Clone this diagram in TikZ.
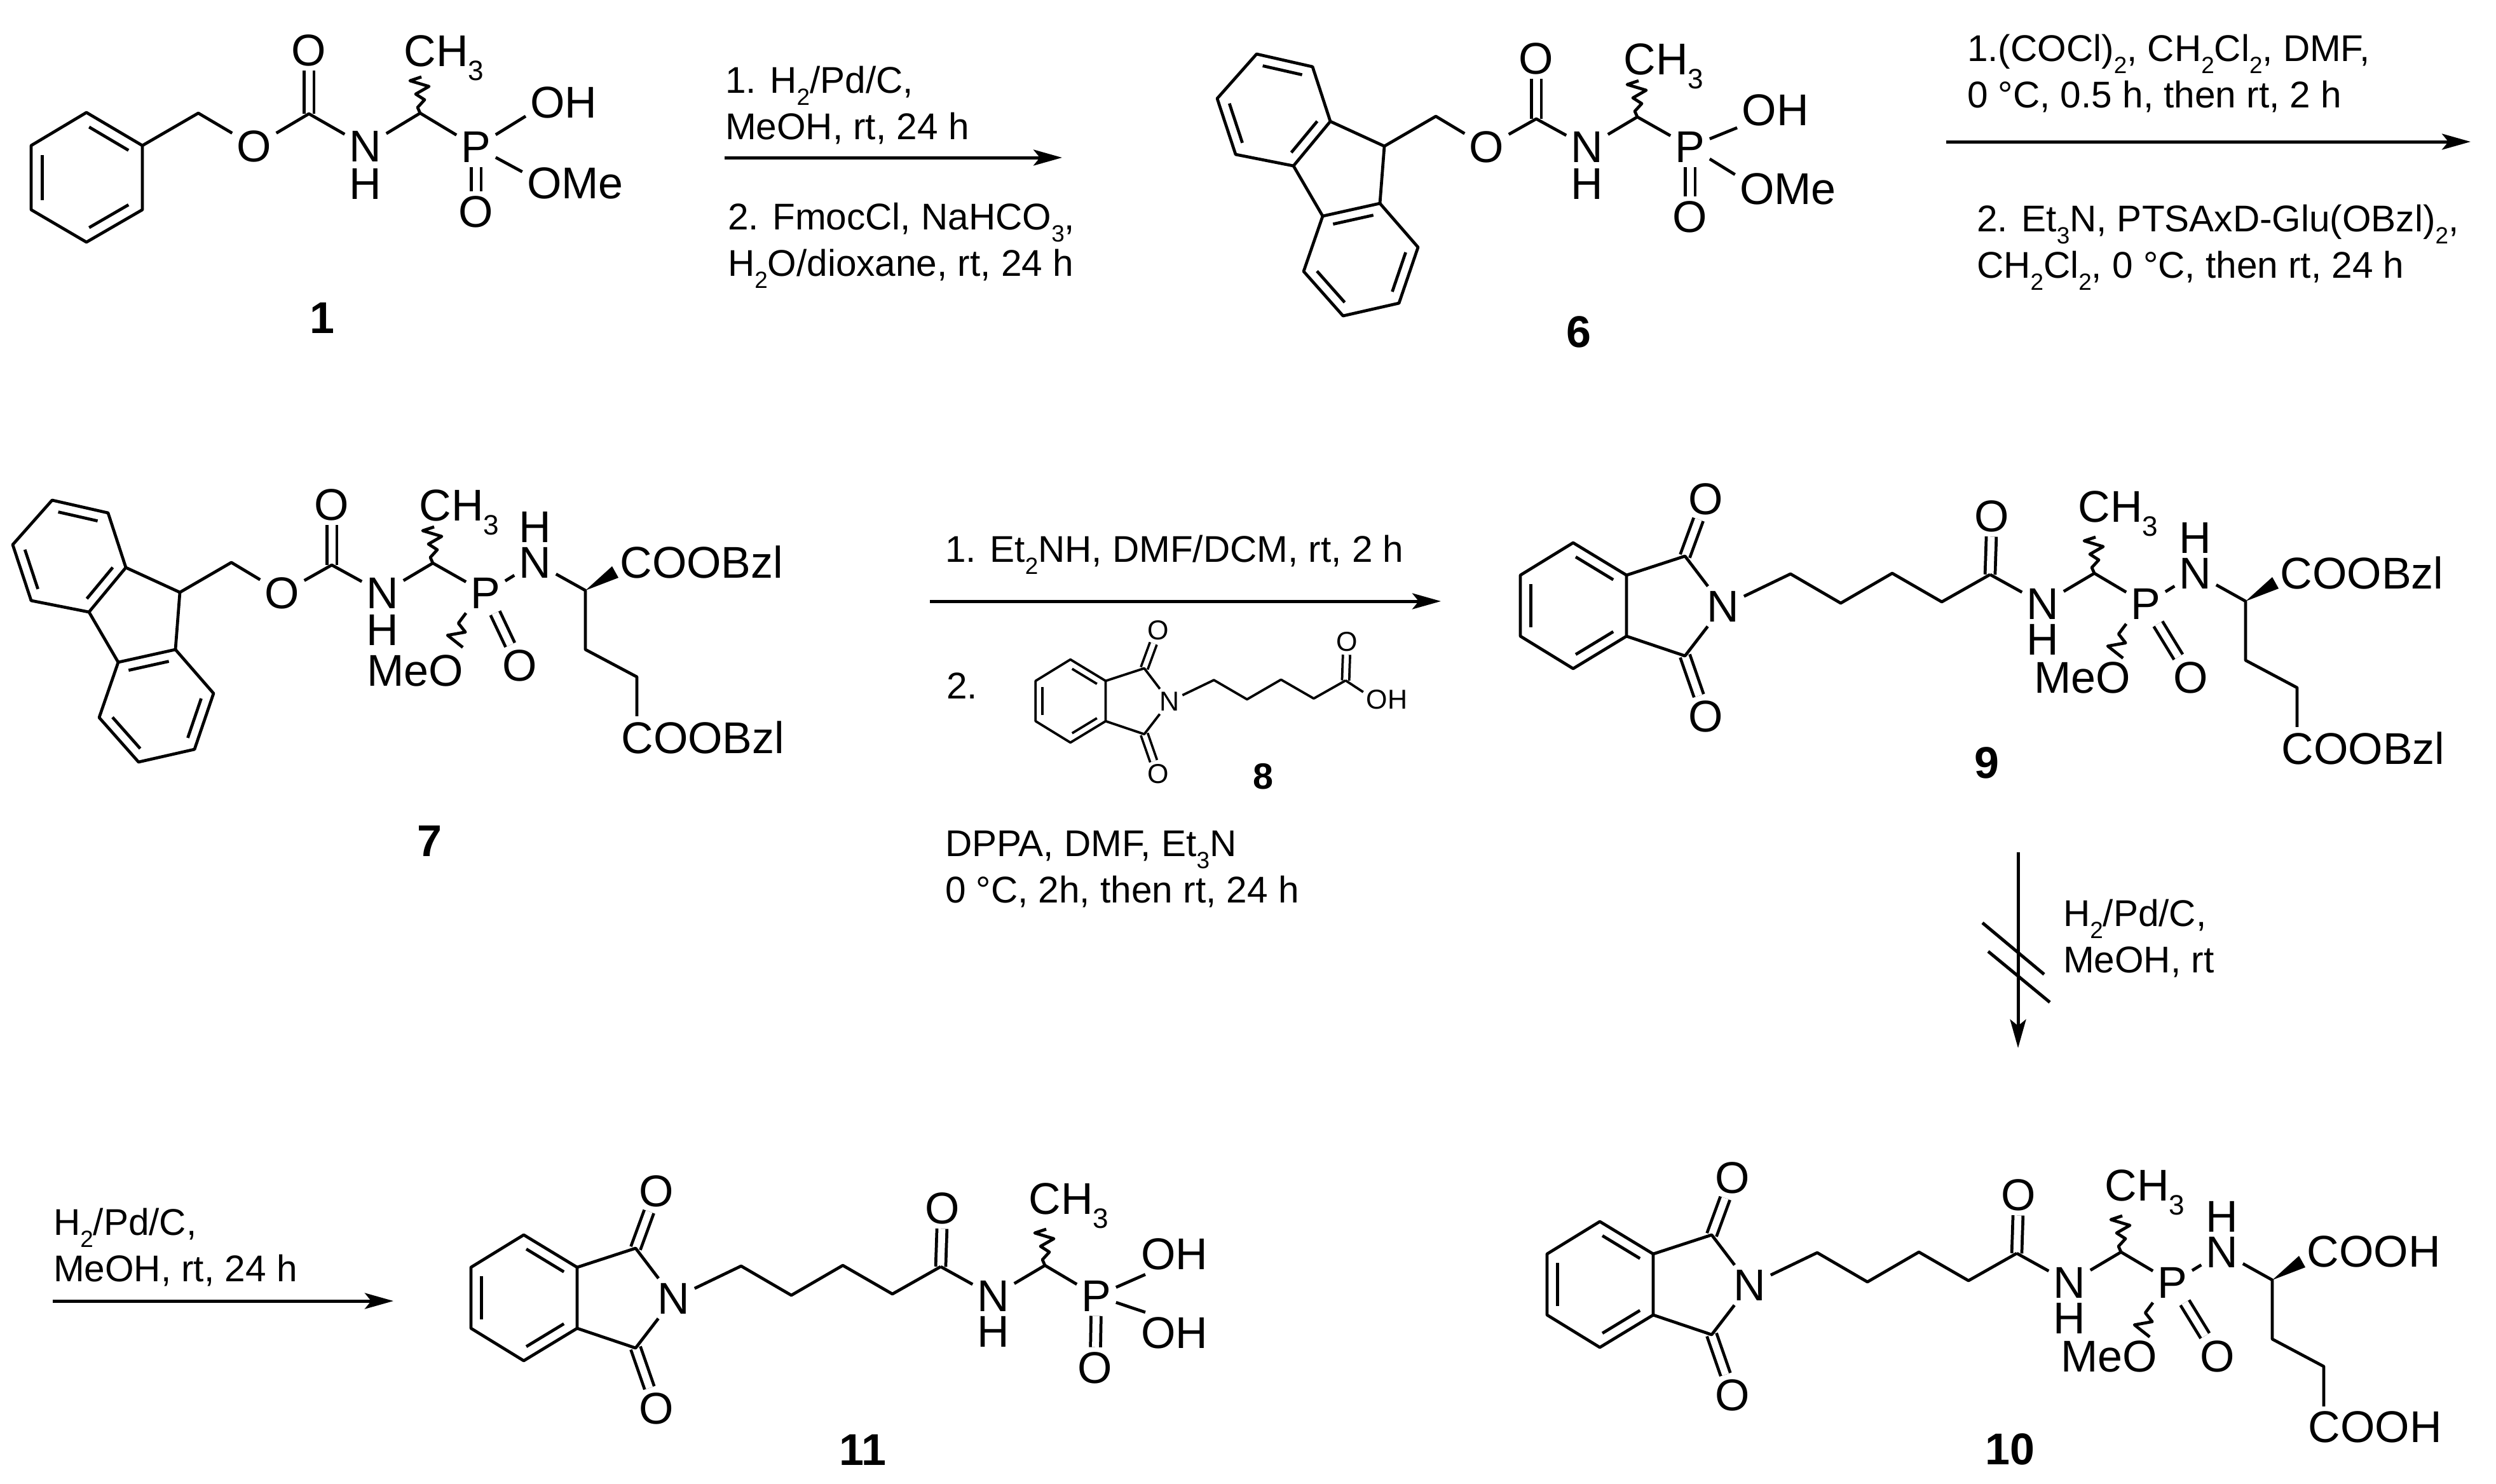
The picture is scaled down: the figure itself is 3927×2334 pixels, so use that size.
\documentclass[tikz,border=0pt]{standalone}
\usepackage{fontspec}
\setmainfont{Liberation Sans}
\usetikzlibrary{calc,arrows.meta}

\tikzset{
    bond/.style={line width=.95pt, line join=round},
    dbl/.style={bond, double, double distance=2.2pt},
    atom/.style={font=\fontsize{14}{14}\selectfont, inner sep=1.5pt, outer sep=0pt},
    num/.style={font=\fontsize{14}{14}\selectfont\bfseries, inner sep=0pt},
    reagent/.style={font=\fontsize{11.7}{14.6}\selectfont, align=left, anchor=west, inner sep=0pt},
    rxnarrow/.style={line width=1pt, -{Stealth[length=9pt,width=5pt,inset=2pt]}},
}

\newcommand{\low}[1]{\raisebox{-.32em}{\scalebox{.63}{#1}}}
% inner line of an aromatic double bond: ends, ring centre
\newcommand{\inbond}[3]{\draw[bond] ($(#1)!.06!(#2)!.2!(#3)$) -- ($(#2)!.06!(#1)!.2!(#3)$);}
\newcommand{\wavyup}[1]{\draw[bond] (#1) -- ++(-4,-9) -- ++(11,-12) -- ++(-14,-9) -- ++(21,-12) -- ++(-30,-9) -- ++(18,-6);}

% fluorenylmethyl carbamate, drawn where compound 6 stands
\newcommand{\fmocpart}{
    \path (1977,85) coordinate (a1) (2065,105) coordinate (a2) (2093,191) coordinate (a3)
          (2035,261) coordinate (a4) (1944,243) coordinate (a5) (1915,155) coordinate (a6)
          (2004,173) coordinate (ac);
    \path (2081,340) coordinate (b1) (2171,320) coordinate (b2) (2231,389) coordinate (b3)
          (2201,477) coordinate (b4) (2113,497) coordinate (b5) (2051,427) coordinate (b6)
          (2141,408) coordinate (bc);
    \path (2178,230) coordinate (c9) (2259,183) coordinate (cM) (2417,187) coordinate (cC)
          (2576,184) coordinate (cH);
    \node[atom] (nOe) at (2339,231) {O};
    \node[atom] (nOc) at (2417,92) {O};
    \node[atom] (nNH) at (2497,231) {N};
    \node[atom] (nHN) at (2497,289) {H};
    \node[atom] (nP)  at (2659,231) {P};
    \node[atom,anchor=base west] (nMe) at (2547,117) {CH\low{3}};
    \draw[dbl] (cC) -- (nOc);
    \draw[bond] (a1) -- (a2) -- (a3) -- (a4) -- (a5) -- (a6) -- cycle;
    \draw[bond] (b1) -- (b2) -- (b3) -- (b4) -- (b5) -- (b6) -- cycle;
    \draw[bond] (a4) -- (b1) (a3) -- (c9) -- (b2);
    \inbond{a1}{a2}{ac} \inbond{a3}{a4}{ac} \inbond{a5}{a6}{ac}
    \inbond{b1}{b2}{bc} \inbond{b3}{b4}{bc} \inbond{b5}{b6}{bc}
    \draw[bond] (c9) -- (cM) -- (nOe) -- (cC) -- (nNH) -- (cH) -- (nP);
    \wavyup{cH}
}

% phthalimide, chain and amide C=O, drawn where compound 9 stands
\newcommand{\phthalpart}{
    \path (2475,854) coordinate (r1) (2559,905) coordinate (r2) (2559,1001) coordinate (r3)
          (2475,1052) coordinate (r4) (2392,1001) coordinate (r5) (2392,905) coordinate (r6)
          (2475,953) coordinate (rc);
    \path (2651,875) coordinate (c1) (2651,1032) coordinate (c2);
    \path (2817,903) coordinate (v1) (2896,949) coordinate (v2) (2977,902) coordinate (v3)
          (3055,947) coordinate (v4) (3131,904) coordinate (cC);
    \node[atom] (nN)  at (2711,954) {N};
    \node[atom] (nO1) at (2684,785) {O};
    \node[atom] (nO2) at (2684,1127) {O};
    \node[atom] (nOc) at (3134,812) {O};
    \draw[dbl] (c1) -- (nO1);
    \draw[dbl] (c2) -- (nO2);
    \draw[dbl] (cC) -- (nOc);
    \draw[bond] (r1) -- (r2) -- (r3) -- (r4) -- (r5) -- (r6) -- cycle;
    \inbond{r1}{r2}{rc} \inbond{r3}{r4}{rc} \inbond{r5}{r6}{rc}
    \draw[bond] (r2) -- (c1) -- (nN) -- (c2) -- (r3);
    \draw[bond] (nN) -- (v1) -- (v2) -- (v3) -- (v4) -- (cC);
}

% NH, CH(CH3) and P that follow the phthaloyl chain
\newcommand{\amidepart}{
    \path (3295,902) coordinate (cH);
    \node[atom] (nNH) at (3214,950) {N};
    \node[atom] (nHN) at (3214,1006) {H};
    \node[atom] (nP)  at (3376,950) {P};
    \node[atom,anchor=base west] (nMe) at (3262,821) {CH\low{3}};
    \draw[bond] (cC) -- (nNH) -- (cH) -- (nP);
    \wavyup{cH}
}

% P(OMe)(=O)-NH-Glu, args: place of MeO, place of O, the two ester labels
\newcommand{\glupart}[4]{
    \path (3533,946) coordinate (cS) (3533,1039) coordinate (g1) (3614,1082) coordinate (g2);
    \node[atom] (nNa) at (3454,902) {N};
    \node[atom] (nHa) at (3454,846) {H};
    \node[atom] (nMeO) at #1 {MeO};
    \node[atom] (nOp) at #2 {O};
    \node[atom,anchor=west] (nE1) at (3580,901) {#3};
    \node[atom,anchor=west] (nE2) at (3582,1177) {#4};
    \draw[dbl] (nP) -- (nOp);
    \draw[bond] (nP.south west) -- ++(-12,16) -- ++(11,14) -- ++(-28,5) -- ++(24,19);
    \draw[bond] (nP) -- (nNa) -- (cS) -- (g1) -- (g2) -- (g2 |- nE2.north);
    \fill (cS) -- ++(42,-38) -- ++(10,18) -- cycle;
}

\begin{document}
\begin{tikzpicture}[x=.2pt,y=-.2pt]
    \useasboundingbox (0,0) rectangle (3927,2334);

    % compound 1
    \begin{scope}[name prefix=m1-]
        \path (136,177) coordinate (a1) (224,229) coordinate (a2) (224,330) coordinate (a3)
              (136,381) coordinate (a4) (49,330) coordinate (a5) (49,229) coordinate (a6)
              (136,279) coordinate (ac);
        \path (312,178) coordinate (cM) (486,179) coordinate (cC) (661,178) coordinate (cH);
        \node[atom] (nOe) at (400,230) {O};
        \node[atom] (nOc) at (486,79) {O};
        \node[atom] (nNH) at (575,230) {N};
        \node[atom] (nHN) at (575,289) {H};
        \node[atom] (nP)  at (749,231) {P};
        \node[atom] (nOp) at (749,333) {O};
        \node[atom] (nOH) at (887,161) {OH};
        \node[atom] (nOM) at (905,288) {OMe};
        \node[atom,anchor=base west] (nMe) at (628,104) {CH\low{3}};
        \draw[dbl] (cC) -- (nOc);
        \draw[dbl] (nP) -- (nOp);
        \draw[bond] (a1) -- (a2) -- (a3) -- (a4) -- (a5) -- (a6) -- cycle;
        \inbond{a1}{a2}{ac} \inbond{a3}{a4}{ac} \inbond{a5}{a6}{ac}
        \draw[bond] (a2) -- (cM) -- (nOe) -- (cC) -- (nNH) -- (cH) -- (nP);
        \draw[bond] (nP) -- (nOH.200) (nP) -- (nOM.168);
        \wavyup{cH}
        \node[num] (lab1) at (507,500) {1};
    \end{scope}

    % compound 6
    \begin{scope}[name prefix=m6-]
        \fmocpart
        \node[atom] (nOp) at (2659,341) {O};
        \node[atom] (nOH) at (2793,173) {OH};
        \node[atom] (nOM) at (2813,297) {OMe};
        \draw[dbl] (nP) -- (nOp);
        \draw[bond] (nP) -- (nOH.205) (nP) -- (nOM.165);
        \node[num] (lab6) at (2484,522) {6};
    \end{scope}

    % compound 7
    \begin{scope}[name prefix=m7-]
        \begin{scope}[shift={(-1895,702)}]
            \fmocpart
        \end{scope}
        \begin{scope}[shift={(-2612,-17)}]
            \glupart{(3265,1072)}{(3430,1064)}{COOBzl}{COOBzl}
        \end{scope}
        \node[num] (lab7) at (676,1323) {7};
    \end{scope}

    % compound 8, smaller
    \begin{scope}[name prefix=m8-]
        \begin{scope}[shift={(50.5,474)},scale=.66,
                      atom/.append style={font=\fontsize{8.6}{8.6}\selectfont, inner sep=1pt},
                      bond/.append style={line width=.75pt},
                      dbl/.append style={double distance=1.5pt}]
            \phthalpart
        \end{scope}
        \node[atom,font=\fontsize{8.6}{8.6}\selectfont,inner sep=1pt] (nOH) at (2182,1101) {OH};
        \draw[bond,line width=.75pt] (cC) -- (nOH.162);
        \node[num,font=\fontsize{11.5}{11.5}\selectfont\bfseries] (lab8) at (1987,1222) {8};
    \end{scope}

    % compound 9
    \begin{scope}[name prefix=m9-]
        \phthalpart
        \amidepart
        \glupart{(3276,1066)}{(3447,1066)}{COOBzl}{COOBzl}
        \node[num] (lab9) at (3126,1200) {9};
    \end{scope}

    % compound 10
    \begin{scope}[name prefix=m10-,shift={(42,1068)}]
        \phthalpart
        \amidepart
        \glupart{(3276,1066)}{(3447,1066)}{COOH}{COOH}
        \node[num] (lab10) at (3120,1212) {10};
    \end{scope}

    % compound 11
    \begin{scope}[name prefix=m11-]
        \begin{scope}[shift={(-1651,1089)}]
            \phthalpart
            \amidepart
        \end{scope}
        \node[atom] (nOp) at (1723,2152) {O};
        \node[atom] (nOH) at (1848,1973) {OH};
        \node[atom] (nOI) at (1848,2097) {OH};
        \draw[dbl] (nP) -- (nOp);
        \draw[bond] (nP) -- (nOH.215) (nP) -- (nOI.145);
        \node[num] (lab11) at (1357,2281) {11};
    \end{scope}

    % arrows and conditions
    \coordinate (a1s) at (1140,248); \coordinate (a1e) at (1671,248);
    \draw[rxnarrow] (a1s) -- (a1e);
    \node[reagent] (t1a) at (1140,166) {1. H\low{2}/Pd/C,\\MeOH, rt, 24 h};
    \node[reagent] (t1b) at (1144,386) {2. FmocCl, NaHCO\low{3},\\H\low{2}O/dioxane, rt, 24 h};

    \coordinate (a2s) at (3062,223); \coordinate (a2e) at (3887,223);
    \draw[rxnarrow] (a2s) -- (a2e);
    \node[reagent] (t2a) at (3094,116) {1.(COCl)\low{2}, CH\low{2}Cl\low{2}, DMF,\\0 °C, 0.5 h, then rt, 2 h};
    \node[reagent] (t2b) at (3109,389) {2. Et\low{3}N, PTSAxD-Glu(OBzl)\low{2},\\CH\low{2}Cl\low{2}, 0 °C, then rt, 24 h};

    \coordinate (a3s) at (1463,946); \coordinate (a3e) at (2267,946);
    \draw[rxnarrow] (a3s) -- (a3e);
    \node[reagent] (t3a) at (1486,873) {1. Et\low{2}NH, DMF/DCM, rt, 2 h};
    \node[reagent] (t3b) at (1488,1079) {2.};
    \node[reagent] (t3c) at (1486,1368) {DPPA, DMF, Et\low{3}N\\0 °C, 2h, then rt, 24 h};

    \coordinate (a4s) at (3175,1341); \coordinate (a4e) at (3175,1649);
    \draw[rxnarrow] (a4s) -- (a4e);
    \coordinate (x1s) at (3119,1452); \coordinate (x1e) at (3216,1533);
    \coordinate (x2s) at (3128,1497); \coordinate (x2e) at (3225,1577);
    \draw[line width=1pt] (x1s) -- (x1e) (x2s) -- (x2e);
    \node[reagent] (t4) at (3245,1477) {H\low{2}/Pd/C,\\MeOH, rt};

    \coordinate (a5s) at (83,2047); \coordinate (a5e) at (619,2047);
    \draw[rxnarrow] (a5s) -- (a5e);
    \node[reagent] (t5) at (83,1963) {H\low{2}/Pd/C,\\MeOH, rt, 24 h};
\end{tikzpicture}
\end{document}
